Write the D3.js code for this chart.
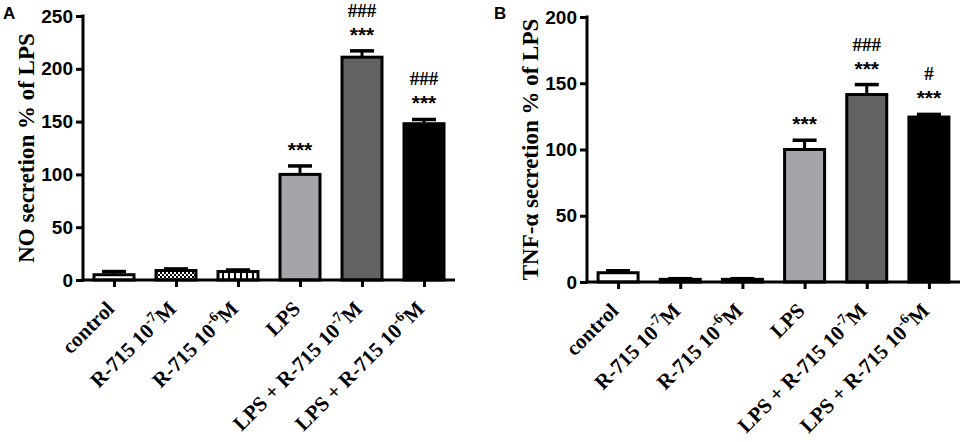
<!DOCTYPE html>
<html>
<head>
<meta charset="utf-8">
<script src="https://cdn.jsdelivr.net/npm/d3@7"></script>
<style>
  body { margin: 0; background: #fff; }
  svg { display: block; }
</style>
</head>
<body>
<svg width="965" height="442"></svg>
<script>
// groups along the x axis
let categories = ["control", "R-715 10-7M", "R-715 10-6M", "LPS", "LPS + R-715 10-7M", "LPS + R-715 10-6M"]

// panel A: NO secretion
let noMeans = [5, 9, 8, 100, 211, 148]
let noErrors = [3, 1.5, 1.5, 8, 6, 4]
let noStars = ["", "", "", "***", "***", "***"]
let noHashes = ["", "", "", "", "###", "###"]
let noTicks = [0, 50, 100, 150, 200, 250]

// panel B: TNF-alpha secretion
let tnfMeans = [7, 2, 2, 100, 141.5, 124.5]
let tnfErrors = [1.5, 0.5, 0.5, 7, 7.5, 2]
let tnfStars = ["", "", "", "***", "***", "***"]
let tnfHashes = ["", "", "", "", "###", "#"]
let tnfTicks = [0, 50, 100, 150, 200]

let fills = ["#ffffff", "url(#checks)", "url(#boxes)", "#a4a4a9", "#626262", "#000000"]

let svg = d3.select("svg")

let defs = svg.append("defs")
let checks = defs.append("pattern")
  .attr("id", "checks")
  .attr("patternUnits", "userSpaceOnUse")
  .attr("width", 4).attr("height", 4)
checks.append("rect").attr("width", 4).attr("height", 4).attr("fill", "#fff")
checks.append("rect").attr("width", 2).attr("height", 2).attr("fill", "#000")
checks.append("rect").attr("x", 2).attr("y", 2).attr("width", 2).attr("height", 2).attr("fill", "#000")

let boxes = defs.append("pattern")
  .attr("id", "boxes")
  .attr("patternUnits", "userSpaceOnUse")
  .attr("width", 6).attr("height", 6)
boxes.append("rect").attr("width", 6).attr("height", 6).attr("fill", "#fff")
boxes.append("rect").attr("width", 2).attr("height", 6).attr("fill", "#000")

let drawPanel = (opt) => {
  let g = svg.append("g")

  let xScale = d3.scalePoint()
    .domain(categories)
    .range([opt.left, opt.right])
    .padding(0.5)
  let yScale = d3.scaleLinear()
    .domain([0, opt.max])
    .range([opt.bottom, opt.top])

  let rows = categories.map((c, i) => ({
    cat: c, mean: opt.means[i], err: opt.errors[i],
    stars: opt.stars[i], hashes: opt.hashes[i], fill: fills[i]
  }))

  let barW = 40
  let capW = 24

  // error bars (upper only)
  g.selectAll(".err")
    .data(rows)
    .enter()
    .append("line")
    .attr("x1", d => xScale(d.cat))
    .attr("x2", d => xScale(d.cat))
    .attr("y1", d => yScale(d.mean))
    .attr("y2", d => yScale(d.mean + d.err))
    .attr("stroke", "#000")
    .attr("stroke-width", 3)
  g.selectAll(".cap")
    .data(rows)
    .enter()
    .append("line")
    .attr("x1", d => xScale(d.cat) - capW / 2)
    .attr("x2", d => xScale(d.cat) + capW / 2)
    .attr("y1", d => yScale(d.mean + d.err))
    .attr("y2", d => yScale(d.mean + d.err))
    .attr("stroke", "#000")
    .attr("stroke-width", 3.5)

  g.selectAll(".bar")
    .data(rows)
    .enter()
    .append("rect")
    .attr("x", d => xScale(d.cat) - barW / 2)
    .attr("width", barW)
    .attr("y", d => yScale(d.mean))
    .attr("height", d => yScale(0) - yScale(d.mean))
    .attr("fill", d => d.fill)
    .attr("stroke", "#000")
    .attr("stroke-width", 3)

  // significance marks
  g.selectAll(".stars")
    .data(rows)
    .enter()
    .append("text")
    .attr("x", d => xScale(d.cat))
    .attr("y", d => yScale(d.mean + d.err) - 9)
    .attr("text-anchor", "middle")
    .style("font-family", "'Liberation Sans', Arial, sans-serif")
    .style("font-weight", "bold")
    .style("font-size", "21px")
    .text(d => d.stars)
  g.selectAll(".hashes")
    .data(rows)
    .enter()
    .append("text")
    .attr("x", d => xScale(d.cat))
    .attr("y", d => yScale(d.mean + d.err) - 34)
    .attr("text-anchor", "middle")
    .style("font-family", "'Liberation Serif', 'Times New Roman', serif")
    .style("font-weight", "bold")
    .style("font-size", "19px")
    .text(d => d.hashes)

  // axes
  let yAxis = d3.axisLeft(yScale).tickValues(opt.ticks).tickSize(7).tickPadding(3).tickSizeOuter(0)
  let yg = g.append("g")
    .attr("transform", "translate(" + opt.left + ",0)")
    .call(yAxis)
  yg.select(".domain").attr("stroke-width", 3).attr("d", "M0," + (opt.bottom + 1.5) + "V" + (opt.top - 1.5))
  yg.selectAll(".tick line").attr("stroke-width", 3)
  yg.selectAll(".tick text")
    .style("font-family", "'Liberation Sans', Arial, sans-serif")
    .style("font-weight", "bold")
    .style("font-size", "19px")
    .attr("fill", "#000")

  let xAxis = d3.axisBottom(xScale).tickSize(7).tickSizeOuter(0).tickFormat("")
  let xg = g.append("g")
    .attr("transform", "translate(0," + opt.bottom + ")")
    .call(xAxis)
  xg.select(".domain").attr("stroke-width", 3).attr("d", "M" + (opt.left - 1.5) + ",0H" + opt.right)
  xg.selectAll(".tick line").attr("stroke-width", 3)

  // rotated category labels with superscripts
  let labels = g.selectAll(".xlab")
    .data(rows)
    .enter()
    .append("text")
    .attr("text-anchor", "end")
    .attr("transform", d => "translate(" + (xScale(d.cat) + 1.5) + "," + (opt.bottom + 30) + ") rotate(-45)")
    .style("font-family", "'Liberation Serif', 'Times New Roman', serif")
    .style("font-weight", "bold")
    .style("font-size", "21px")
  labels.each(function (d) {
    let t = d3.select(this)
    let m = d.cat.match(/^(.*10)(-\d)(M)$/)
    if (m) {
      t.append("tspan").text(m[1])
      t.append("tspan").attr("dy", -9).style("font-size", "14px").text(m[2])
      t.append("tspan").attr("dy", 9).text(m[3])
    } else {
      t.text(d.cat)
    }
  })

  // y axis title
  g.append("text")
    .attr("transform", "translate(" + opt.titleX + "," + ((opt.top + opt.bottom) / 2) + ") rotate(-90)")
    .attr("text-anchor", "middle")
    .style("font-family", "'Liberation Serif', 'Times New Roman', serif")
    .style("font-weight", "bold")
    .style("font-size", "23px")
    .text(opt.title)

  // panel letter
  g.append("text")
    .attr("x", opt.letterX)
    .attr("y", 19)
    .style("font-family", "'Liberation Sans', Arial, sans-serif")
    .style("font-weight", "bold")
    .style("font-size", "17px")
    .text(opt.letter)
}

drawPanel({
  left: 83, right: 455, top: 16, bottom: 280, max: 250,
  means: noMeans, errors: noErrors, stars: noStars, hashes: noHashes, ticks: noTicks,
  title: "NO secretion % of LPS", titleX: 34, letter: "A", letterX: 3
})

drawPanel({
  left: 587, right: 960, top: 17, bottom: 282, max: 200,
  means: tnfMeans, errors: tnfErrors, stars: tnfStars, hashes: tnfHashes, ticks: tnfTicks,
  title: "TNF-\u03b1 secretion % of LPS", titleX: 538, letter: "B", letterX: 494
})
</script>
</body>
</html>
